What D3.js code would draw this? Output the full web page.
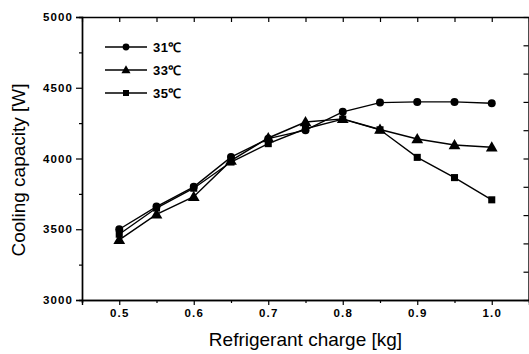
<!DOCTYPE html>
<html>
<head>
<meta charset="utf-8">
<script src="https://cdn.jsdelivr.net/npm/d3@7"></script>
<style>
  body { margin: 0; background: #fff; }
  svg { display: block; font-family: Arial, "Liberation Sans", sans-serif; }
</style>
</head>
<body>
<svg id="chart" width="529" height="354"></svg>
<script>
// Data
const charge = [0.5, 0.55, 0.6, 0.65, 0.7, 0.75, 0.8, 0.85, 0.9, 0.95, 1.0];
const cap31 = [3500, 3660, 3800, 4010, 4140, 4200, 4330, 4395, 4400, 4400, 4390];
const cap33 = [3425, 3605, 3730, 3985, 4145, 4258, 4280, 4205, 4138, 4095, 4080];
const cap35 = [3465, 3650, 3790, 3975, 4105, 4210, 4278, 4203, 4008, 3865, 3708];
const seriesNames = ['31℃', '33℃', '35℃'];
const seriesValues = [cap31, cap33, cap35];
const seriesSymbols = [d3.symbolCircle, d3.symbolTriangle, d3.symbolSquare];
const xTicks = [0.5, 0.6, 0.7, 0.8, 0.9, 1.0];
const yTicks = [3000, 3500, 4000, 4500, 5000];

const svg = d3.select('#chart');
const plotLeft = 82, plotRight = 529, plotTop = 17, plotBottom = 300;

const x = d3.scaleLinear().domain([0.45, 1.05]).range([plotLeft, plotRight]);
const y = d3.scaleLinear().domain([3000, 5000]).range([plotBottom, plotTop]);
const yRight = d3.scaleLinear().domain([0, 10]).range([plotBottom, plotTop]);

const tickFont = g => g.selectAll('text')
    .attr('font-size', 11.5)
    .attr('font-weight', 'bold')
    .attr('letter-spacing', 1.1)
    .attr('fill', '#000');

const styleAxis = g => {
    g.select('.domain').attr('stroke', '#000').attr('stroke-width', 1.4);
    g.selectAll('line').attr('stroke', '#000').attr('stroke-width', 1.2);
};

// Minor ticks
const xMinor = d3.range(0.45, 1.051, 0.05).filter(v => Math.abs(v * 10 - Math.round(v * 10)) > 0.01);
const yMinor = d3.range(3250, 5000, 500);

svg.append('g')
    .attr('transform', `translate(0,${plotBottom})`)
    .call(d3.axisBottom(x).tickValues(xMinor).tickSize(3).tickFormat(''))
    .call(styleAxis);
svg.append('g')
    .attr('transform', `translate(0,${plotBottom})`)
    .call(d3.axisBottom(x).tickValues(xTicks).tickSize(5).tickPadding(4).tickFormat(d3.format('.1f')))
    .call(styleAxis)
    .call(tickFont);

svg.append('g')
    .attr('transform', `translate(0,${plotTop})`)
    .call(d3.axisTop(x).tickValues(xTicks.concat(xMinor)).tickSizeInner(-5).tickSizeOuter(0).tickFormat(''))
    .call(styleAxis);

svg.append('g')
    .attr('transform', `translate(${plotLeft},0)`)
    .call(d3.axisLeft(y).tickValues(yMinor).tickSize(3).tickFormat(''))
    .call(styleAxis);
svg.append('g')
    .attr('transform', `translate(${plotLeft},0)`)
    .call(d3.axisLeft(y).tickValues(yTicks).tickSize(6).tickPadding(3).tickFormat(d3.format('d')))
    .call(styleAxis)
    .call(tickFont);

svg.append('g')
    .attr('transform', `translate(${plotRight - 0.5},0)`)
    .call(d3.axisRight(yRight).ticks(10).tickSizeInner(-5).tickSizeOuter(0).tickFormat(''))
    .call(styleAxis);

// Axis titles
svg.append('text')
    .attr('x', (plotLeft + plotRight) / 2)
    .attr('y', 346)
    .attr('text-anchor', 'middle')
    .attr('font-size', 19)
    .text('Refrigerant charge [kg]');

svg.append('text')
    .attr('transform', `translate(25,170) rotate(-90)`)
    .attr('text-anchor', 'middle')
    .attr('font-size', 19)
    .text('Cooling capacity [W]');

// Series
const line = d3.line().x((d, i) => x(charge[i])).y(d => y(d));
const markerSizes = [50, 60, 50];

seriesValues.forEach((vals, s) => {
    svg.append('path')
        .datum(vals)
        .attr('d', line)
        .attr('fill', 'none')
        .attr('stroke', '#000')
        .attr('stroke-width', 1.4);

    svg.selectAll(`.m${s}`)
        .data(vals)
        .enter()
        .append('path')
        .attr('class', `m${s}`)
        .attr('transform', (d, i) => `translate(${x(charge[i])},${y(d) + (s === 1 ? 0.8 : 0)})`)
        .attr('d', d3.symbol().type(seriesSymbols[s]).size(markerSizes[s]))
        .attr('fill', '#000');
});

// Legend
const legend = svg.append('g').attr('transform', 'translate(105,47)');
seriesNames.forEach((name, s) => {
    const row = legend.append('g').attr('transform', `translate(0,${s * 23})`);
    row.append('line')
        .attr('x1', 0).attr('x2', 42)
        .attr('stroke', '#000').attr('stroke-width', 1.3);
    row.append('path')
        .attr('transform', `translate(21,${s === 1 ? 0.6 : 0})`)
        .attr('d', d3.symbol().type(seriesSymbols[s]).size(36))
        .attr('fill', '#000');
    row.append('text')
        .attr('x', 48)
        .attr('y', 5)
        .attr('font-size', 13)
        .attr('font-weight', 'bold')
        .attr('letter-spacing', 0.5)
        .text(name);
});
</script>
</body>
</html>
